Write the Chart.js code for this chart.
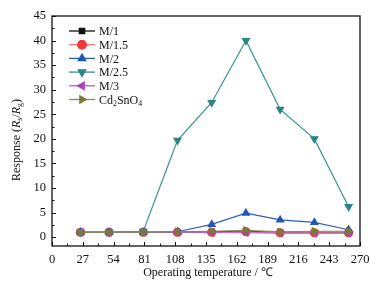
<!DOCTYPE html>
<html>
<head>
<meta charset="utf-8">
<script src="https://cdn.jsdelivr.net/npm/chart.js@4.4.1/dist/chart.umd.min.js"></script>
<style>
  html, body { margin: 0; padding: 0; background: #fff; }
  #wrap { width: 381px; height: 291px; }
</style>
</head>
<body>
<div id="wrap"><canvas id="chart"></canvas></div>
<script>
// ── Data ──
const temps = [25, 50, 80, 110, 140, 170, 200, 230, 260];
const m1    = [1.0, 1.0, 1.0, 1.0, 1.1, 1.2, 1.0, 1.0, 1.0];
const m15   = [1.0, 1.0, 1.0, 1.0, 1.0, 1.1, 0.9, 0.9, 0.9];
const m2    = [1.0, 1.0, 1.0, 1.1, 2.6, 4.9, 3.5, 3.0, 1.5];
const m25   = [1.0, 1.0, 1.2, 19.7, 27.4, 40.0, 26.0, 20.0, 6.2];
const m3    = [1.0, 1.0, 1.0, 1.0, 0.9, 0.9, 0.8, 0.8, 0.8];
const cdsn  = [1.0, 1.0, 1.0, 1.1, 1.2, 1.4, 1.1, 1.2, 1.2];
const xTicks = [0, 27, 54, 81, 108, 135, 162, 189, 216, 243, 270];
const yTicks = [0, 5, 10, 15, 20, 25, 30, 35, 40, 45];

const FONT = '"Liberation Serif", "Times New Roman", serif';

// ── Series styling ──
const series = [
  { label: 'M/1',     data: m1,   color: '#111111', line: '#111111', style: 'rect',     rot: 0 },
  { label: 'M/1.5',   data: m15,  color: '#f03a3a', line: '#f27a7a', style: 'circle',   rot: 0 },
  { label: 'M/2',     data: m2,   color: '#2456b8', line: '#2d5fc0', style: 'triangle', rot: 0 },
  { label: 'M/2.5',   data: m25,  color: '#2a8585', line: '#3a9292', style: 'triangle', rot: 180 },
  { label: 'M/3',     data: m3,   color: '#b040b8', line: '#b060c0', style: 'triangle', rot: -90 },
  { label: 'Cd2SnO4', data: cdsn, color: '#7a7a38', line: '#8a8a50', style: 'triangle', rot: 90 },
];

const datasets = series.map((s, i) => ({
  label: s.label,
  data: temps.map((t, k) => ({ x: t, y: s.data[k] })),
  borderColor: s.line,
  backgroundColor: s.color,
  pointBackgroundColor: s.color,
  pointBorderColor: s.color,
  pointStyle: s.style,
  pointRotation: s.rot,
  pointRadius: s.style === 'rect' ? 3.5 : 4,
  borderWidth: 1.2,
  tension: 0,
  order: series.length - i,
}));

// ── Text helper: runs of {t, sub, it} ──
function drawRuns(ctx, runs, x, y, size) {
  let cx = x;
  runs.forEach(r => {
    const fs = r.sub ? size * 0.65 : size;
    ctx.font = (r.it ? 'italic ' : '') + fs + 'px ' + FONT;
    ctx.fillText(r.t, cx, r.sub ? y + size * 0.28 : y);
    cx += ctx.measureText(r.t).width;
  });
  return cx - x;
}
function runsWidth(ctx, runs, size) {
  let w = 0;
  runs.forEach(r => {
    const fs = r.sub ? size * 0.65 : size;
    ctx.font = (r.it ? 'italic ' : '') + fs + 'px ' + FONT;
    w += ctx.measureText(r.t).width;
  });
  return w;
}

// ── Frame, ticks, titles, legend ──
const decor = {
  id: 'decor',
  afterDraw(chart) {
    const { ctx, chartArea: a, scales: { x, y } } = chart;
    ctx.save();
    ctx.strokeStyle = '#111';
    ctx.lineWidth = 1.3;
    ctx.strokeRect(a.left, a.top, a.right - a.left, a.bottom - a.top);

    // inward ticks
    ctx.lineWidth = 1;
    ctx.beginPath();
    xTicks.forEach(v => {
      const px = Math.round(x.getPixelForValue(v)) + 0.5;
      ctx.moveTo(px, a.bottom); ctx.lineTo(px, a.bottom - 4);
    });
    for (let v = 13.5; v < 270; v += 27) {
      const px = Math.round(x.getPixelForValue(v)) + 0.5;
      ctx.moveTo(px, a.bottom); ctx.lineTo(px, a.bottom - 2.5);
    }
    yTicks.forEach(v => {
      const py = Math.round(y.getPixelForValue(v)) + 0.5;
      ctx.moveTo(a.left, py); ctx.lineTo(a.left + 4, py);
    });
    for (let v = 2.5; v < 45; v += 5) {
      const py = Math.round(y.getPixelForValue(v)) + 0.5;
      ctx.moveTo(a.left, py); ctx.lineTo(a.left + 2.5, py);
    }
    ctx.stroke();

    ctx.fillStyle = '#111';
    ctx.textBaseline = 'middle';

    // x title
    ctx.font = '12px ' + FONT;
    ctx.textAlign = 'center';
    ctx.fillText('Operating temperature / \u2103', (a.left + a.right) / 2 + 2, 273);

    // y title
    const yRuns = [
      { t: 'Response (' }, { t: 'R', it: true }, { t: 's', sub: true },
      { t: '/' }, { t: 'R', it: true }, { t: 'g', sub: true }, { t: ')' },
    ];
    ctx.textAlign = 'left';
    ctx.save();
    ctx.translate(17, 140);
    ctx.rotate(-Math.PI / 2);
    const w = runsWidth(ctx, yRuns, 12);
    drawRuns(ctx, yRuns, -w / 2, 0, 12);
    ctx.restore();

    // legend
    const lx = 69, ly = 31, step = 13.7;
    series.forEach((s, i) => {
      const yy = ly + i * step;
      ctx.strokeStyle = s.line;
      ctx.lineWidth = 1.3;
      ctx.beginPath(); ctx.moveTo(lx, yy); ctx.lineTo(lx + 26, yy); ctx.stroke();
      ctx.fillStyle = s.color;
      ctx.strokeStyle = s.color;
      Chart.helpers.drawPoint(ctx, {
        pointStyle: s.style, rotation: s.rot,
        radius: s.style === 'rect' ? 3.8 : 4.3, borderWidth: 1,
      }, lx + 13, yy);
      ctx.fillStyle = '#111';
      const runs = s.label === 'Cd2SnO4'
        ? [{ t: 'Cd' }, { t: '2', sub: true }, { t: 'SnO' }, { t: '4', sub: true }]
        : [{ t: s.label }];
      drawRuns(ctx, runs, lx + 30, yy + 1, 12);
    });
    ctx.restore();
  }
};

// ── Chart ──
new Chart(document.getElementById('chart'), {
  type: 'line',
  data: { datasets },
  options: {
    responsive: true, maintainAspectRatio: false,
    animation: false,
    layout: { padding: { top: 16, right: 21, left: 0, bottom: 0 } },
    plugins: { legend: { display: false }, tooltip: { enabled: false } },
    scales: {
      x: {
        type: 'linear', min: 0, max: 270,
        afterBuildTicks: s => { s.ticks = xTicks.map(v => ({ value: v })); },
        afterFit: s => { s.height = 45; },
        grid: { display: false, drawTicks: false },
        border: { display: false },
        ticks: { color: '#111', padding: 6, maxRotation: 0, font: { family: FONT, size: 12.5 } },
      },
      y: {
        type: 'linear', min: -1.8, max: 45,
        afterBuildTicks: s => { s.ticks = yTicks.map(v => ({ value: v })); },
        afterFit: s => { s.width = 52; },
        grid: { display: false, drawTicks: false },
        border: { display: false },
        ticks: { color: '#111', padding: 6, font: { family: FONT, size: 12.5 } },
      },
    },
  },
  plugins: [decor],
});
</script>
</body>
</html>
